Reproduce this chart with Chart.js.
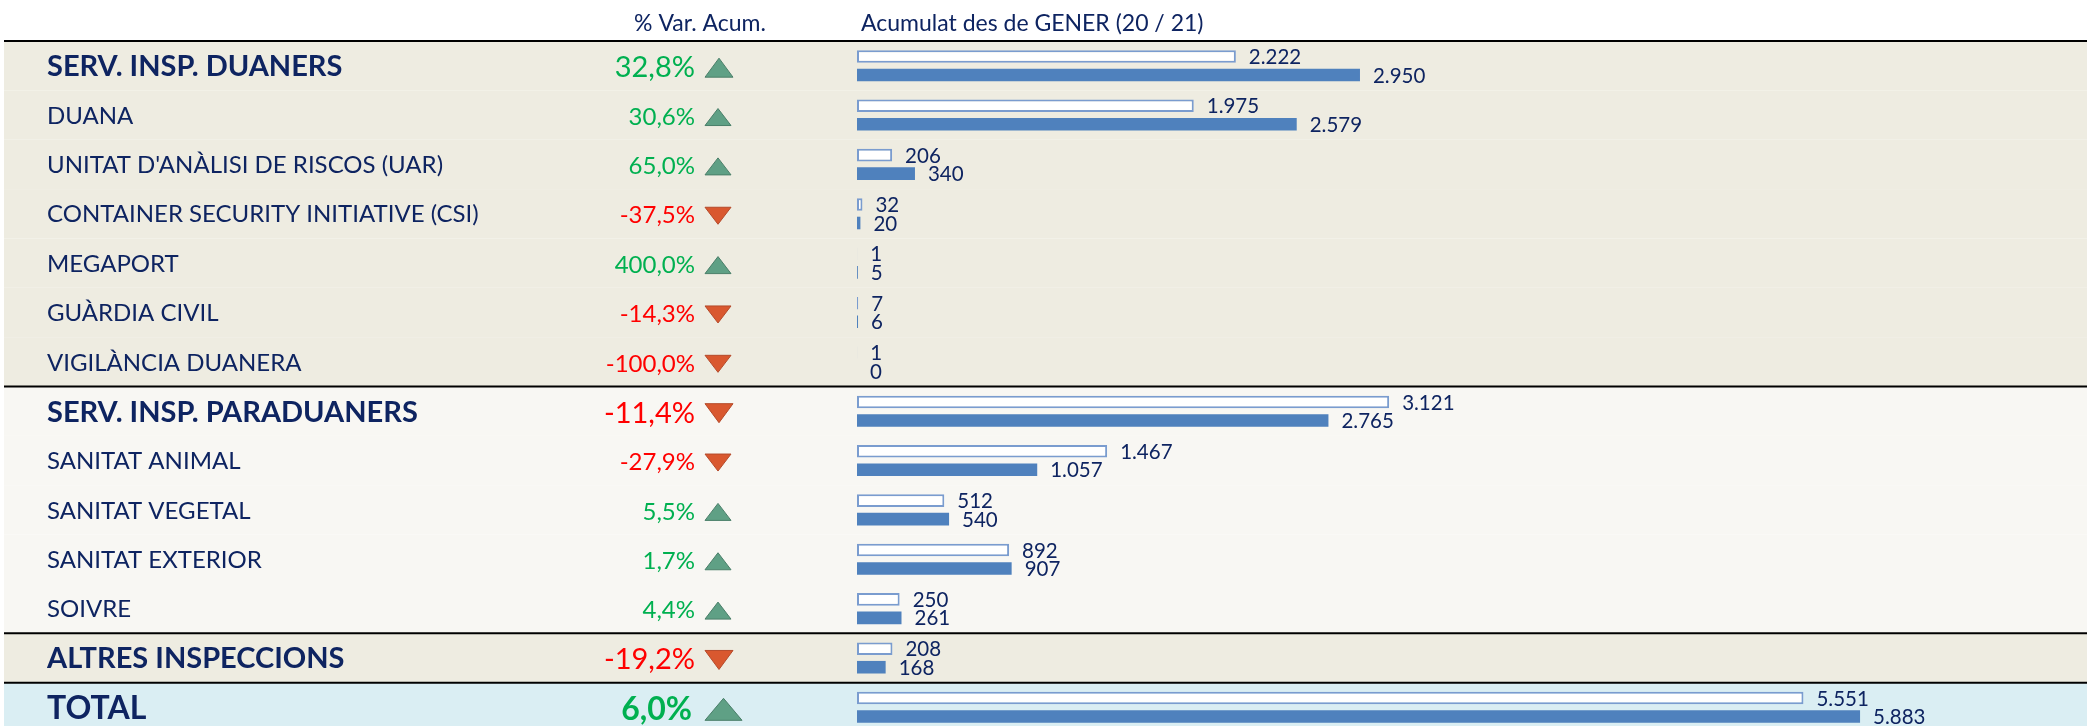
<!DOCTYPE html>
<html><head><meta charset="utf-8">
<script src="https://cdn.jsdelivr.net/npm/chart.js@4.4.1/dist/chart.umd.min.js"></script>
<style>html,body{margin:0;padding:0;background:#fff;overflow:hidden;width:2087px;height:726px}canvas{display:block}</style>
</head><body>
<canvas id="c" width="2087" height="732"></canvas>
<script>
// ---- data ----
const categories = [
  'SERV. INSP. DUANERS', 'DUANA', "UNITAT D'ANÀLISI DE RISCOS (UAR)", 'CONTAINER SECURITY INITIATIVE (CSI)',
  'MEGAPORT', 'GUÀRDIA CIVIL', 'VIGILÀNCIA DUANERA', 'SERV. INSP. PARADUANERS', 'SANITAT ANIMAL',
  'SANITAT VEGETAL', 'SANITAT EXTERIOR', 'SOIVRE', 'ALTRES INSPECCIONS', 'TOTAL'
];
const values2020 = [2222, 1975, 206, 32, 1, 7, 1, 3121, 1467, 512, 892, 250, 208, 5551];
const values2021 = [2950, 2579, 340, 20, 5, 6, 0, 2765, 1057, 540, 907, 261, 168, 5883];
const variacio = [32.8, 30.6, 65.0, -37.5, 400.0, -14.3, -100.0, -11.4, -27.9, 5.5, 1.7, 4.4, -19.2, 6.0];
const rowKind = ['group','item','item','item','item','item','item','group','item','item','item','item','group','total'];
const seriesLabels = ['2020', '2021'];
const headerVar = '% Var. Acum.';
const headerAcc = 'Acumulat des de GENER (20 / 21)';

// ---- style ----
const FONT = 'Lato, "Open Sans", sans-serif';
const NAVY = '#0E2461';
const bandColor = i => (i <= 6 || i === 12) ? '#EEECE1' : (i === 13 ? '#DAEEF3' : '#F8F7F3');
const lineRows = [0, 7, 12, 13];

function fmtInt(v) { return String(v).replace(/\B(?=(\d{3})+(?!\d))/g, '.'); }
function fmtPct(v) { return v.toFixed(1).replace('.', ',') + '%'; }

function rowBounds(scale, i) {
  const c = scale.getPixelForValue(i);
  const h = (scale.bottom - scale.top) / categories.length;
  return [c - h / 2, c + h / 2, c];
}

const tablePlugin = {
  id: 'table',
  beforeDraw(chart) {
    const ctx = chart.ctx, y = chart.scales.y, W = chart.width;
    ctx.save();
    ctx.fillStyle = '#fff';
    ctx.fillRect(0, 0, W, chart.height);
    categories.forEach((_, i) => {
      const [t, b] = rowBounds(y, i);
      ctx.fillStyle = bandColor(i);
      ctx.fillRect(4, t, W - 4, b - t);
    });
    ctx.strokeStyle = '#000';
    ctx.lineWidth = 2;
    lineRows.forEach(i => {
      const [t] = rowBounds(y, i);
      ctx.beginPath(); ctx.moveTo(4, t); ctx.lineTo(W, t); ctx.stroke();
    });
    // headers
    ctx.fillStyle = NAVY;
    ctx.font = '23px ' + FONT;
    ctx.textBaseline = 'middle';
    ctx.textAlign = 'center';
    ctx.fillText(headerVar, 700, 24);
    ctx.textAlign = 'left';
    ctx.fillText(headerAcc, 861, 24);
    ctx.restore();
  },
  afterDatasetsDraw(chart) {
    const ctx = chart.ctx, y = chart.scales.y;
    ctx.save();
    // value labels
    chart.data.datasets.forEach((ds, di) => {
      const meta = chart.getDatasetMeta(di);
      meta.data.forEach((bar, i) => {
        ctx.fillStyle = NAVY;
        ctx.font = '20.5px ' + FONT;
        ctx.textAlign = 'left';
        ctx.textBaseline = 'middle';
        ctx.fillText(fmtInt(ds.data[i]), bar.x + 13, bar.y + 1);
      });
    });
    // variation column
    variacio.forEach((v, i) => {
      const [, , c] = rowBounds(y, i);
      const kind = rowKind[i];
      let f = '24px ' + FONT, tw = 26, th = 17;
      if (kind === 'group') { f = '29px ' + FONT; tw = 28; th = 19; }
      if (kind === 'total') { f = 'bold 32px ' + FONT; tw = 37; th = 22; }
      ctx.font = f;
      ctx.fillStyle = v >= 0 ? '#00B050' : '#FF0000';
      ctx.textAlign = 'right';
      ctx.textBaseline = 'middle';
      ctx.fillText(fmtPct(v), kind === 'total' ? 692 : 695, c + 2);
      const x0 = 705, cy = c + 2;
      ctx.beginPath();
      if (v >= 0) {
        ctx.moveTo(x0, cy + th / 2); ctx.lineTo(x0 + tw / 2, cy - th / 2); ctx.lineTo(x0 + tw, cy + th / 2);
        ctx.fillStyle = '#5FA085'; ctx.strokeStyle = '#4A7F69';
      } else {
        ctx.moveTo(x0, cy - th / 2); ctx.lineTo(x0 + tw / 2, cy + th / 2); ctx.lineTo(x0 + tw, cy - th / 2);
        ctx.fillStyle = '#D9582F'; ctx.strokeStyle = '#B54A2A';
      }
      ctx.closePath();
      ctx.fill();
      ctx.lineWidth = 1;
      ctx.stroke();
    });
    ctx.restore();
  }
};

new Chart(document.getElementById('c'), {
  type: 'bar',
  data: {
    labels: categories,
    datasets: [
      { label: seriesLabels[0], data: values2020, backgroundColor: '#FFFFFF', borderColor: '#7A9CCF', borderWidth: 2, borderSkipped: false,
        categoryPercentage: 0.75, barPercentage: 0.68 },
      { label: seriesLabels[1], data: values2021, backgroundColor: '#4F81BD', borderColor: '#4F81BD', borderWidth: 0,
        categoryPercentage: 0.75, barPercentage: 0.68 }
    ]
  },
  options: {
    indexAxis: 'y',
    responsive: false,
    animation: false,
    events: [],
    layout: { padding: { left: 47, top: 41, right: 0, bottom: 0 } },
    plugins: { legend: { display: false }, tooltip: { enabled: false } },
    scales: {
      x: { display: false, min: 0, max: 7214 },
      y: {
        grid: { display: false, drawTicks: false },
        border: { display: false },
        afterFit(scale) { scale.width = 810; scale.paddingTop = 0; scale.paddingBottom = 0; },
        ticks: {
          crossAlign: 'far',
          autoSkip: false,
          padding: 0,
          labelOffset: 1,
          color: NAVY,
          font: (ctx) => {
            const k = rowKind[ctx.index];
            if (k === 'group') return { family: FONT, size: 29, weight: 'bold' };
            if (k === 'total') return { family: FONT, size: 32, weight: 'bold' };
            return { family: FONT, size: 24, weight: 'normal' };
          }
        }
      }
    }
  },
  plugins: [tablePlugin]
});
</script>
</body></html>
